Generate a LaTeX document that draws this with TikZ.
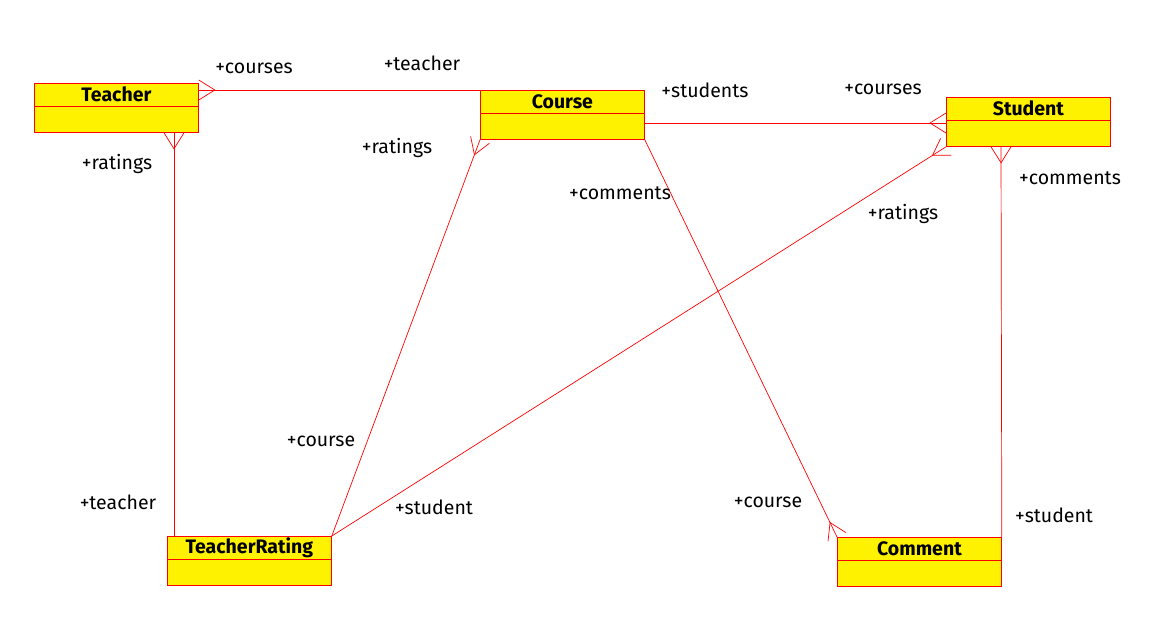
\documentclass[tikz,border=0pt]{standalone}
\usepackage{fontspec}
\setmainfont{Fira Sans}
\usetikzlibrary{calc}

% One class: box, divider and bold title
\newcommand\umlclass[4]{%
  \node[classbox, anchor=north west] (#1) at (#2,#3) {};
  \draw[assoc] ($(#1.north west)+(0,23)$) -- ($(#1.north east)+(0,23)$);
  \node[classtitle] (#1-title) at ($(#1.north)+(0,11.5)$) {#4};
}

% Crow's foot at the end #1 of a line that runs to #2
\newcommand\crowfoot[2]{%
  \draw[assoc] ($(#1)!10pt!90:(#2)$) -- ($(#1)!16pt!(#2)$) -- ($(#1)!10pt!-90:(#2)$);
}

\begin{document}
\begin{tikzpicture}[x=1pt,y=-1pt,
  classbox/.style={draw=red, fill=yellow, line width=0.8pt,
    minimum width=164pt, minimum height=49pt, inner sep=0pt},
  assoc/.style={draw=red, line width=0.7pt},
  classtitle/.style={font=\fontsize{19.5}{22}\selectfont\bfseries},
  rolelabel/.style={font=\fontsize{19.5}{22}\selectfont}]

\useasboundingbox (0,0) rectangle (1153,632);

% Classes
\umlclass{teacher}{34}{83}{Teacher}
\umlclass{course}{480}{90}{Course}
\umlclass{student}{946}{97}{Student}
\umlclass{rating}{167}{536}{TeacherRating}
\umlclass{comment}{837}{537}{Comment}

% Line ends on the boxes
\coordinate (teacher-e) at ($(teacher.north east)+(0,7)$);
\coordinate (teacher-s) at ($(teacher.south west)+(140,0)$);
\coordinate (rating-n) at ($(rating.north west)+(7,0)$);
\coordinate (course-e) at ($(course.north east)+(0,33)$);
\coordinate (student-w) at ($(student.north west)+(0,26)$);
\coordinate (student-s) at ($(student.south west)+(55,0)$);

% Associations
\draw[assoc] (teacher-e) -- (course.north west);
\crowfoot{teacher-e}{course.north west}

\draw[assoc] (teacher-s) -- (rating-n);
\crowfoot{teacher-s}{rating-n}

\draw[assoc] (course.south west) -- (rating.north east);
\crowfoot{course.south west}{rating.north east}

\draw[assoc] (course-e) -- (student-w);
\crowfoot{student-w}{course-e}

\draw[assoc] (student.south west) -- (rating.north east);
\crowfoot{student.south west}{rating.north east}

\draw[assoc] (course.south east) -- (comment.north west);
\crowfoot{comment.north west}{course.south east}

\draw[assoc] (student-s) -- (comment.north east);
\crowfoot{student-s}{comment.north east}

% Role names
\node[rolelabel] (teacher-courses) at (254,68) {+courses};
\node[rolelabel] (course-teacher) at (422,63) {+teacher};
\node[rolelabel] (course-students) at (705,90) {+students};
\node[rolelabel] (student-courses) at (883,89) {+courses};
\node[rolelabel] (teacher-ratings) at (117,164) {+ratings};
\node[rolelabel] (course-ratings) at (397,148) {+ratings};
\node[rolelabel] (course-comments) at (620,193) {+comments};
\node[rolelabel] (student-comments) at (1070,178) {+comments};
\node[rolelabel] (student-ratings) at (903,214) {+ratings};
\node[rolelabel] (rating-course) at (321,441) {+course};
\node[rolelabel] (rating-teacher) at (118,502) {+teacher};
\node[rolelabel] (rating-student) at (434,507) {+student};
\node[rolelabel] (comment-course) at (768,502) {+course};
\node[rolelabel] (comment-student) at (1054,515) {+student};

\end{tikzpicture}
\end{document}
